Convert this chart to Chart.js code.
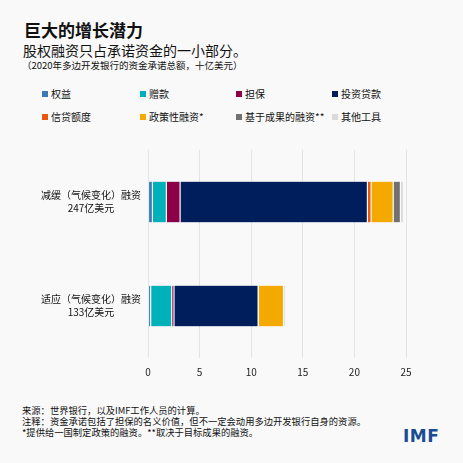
<!DOCTYPE html>
<html>
<head>
<meta charset="utf-8">
<script src="https://cdn.jsdelivr.net/npm/chart.js@4"></script>
<style>
  body { margin: 0; background: #f9f9f9; font-family: "Noto Sans CJK SC", sans-serif; color: #111; }
  #wrap { position: relative; width: 463px; height: 463px; overflow: hidden; }
  .t { position: absolute; white-space: nowrap; }
  #title { left: 24px; top: 17px; font-size: 17px; font-weight: bold; }
  #sub { left: 23px; top: 40px; font-size: 14px; }
  #unit { left: 22px; top: 58px; font-size: 9.5px; }
  #legend { position: absolute; left: 0; top: 0; }
  .li { position: absolute; font-size: 10px; line-height: 12px; white-space: nowrap; }
  .li span { display: inline-block; width: 6px; height: 6px; margin-right: 3px; vertical-align: 1px; }
  #chart { position: absolute; left: 0; top: 130px; }
  #notes { left: 22px; top: 405px; font-size: 9.3px; line-height: 11px; }
  #logo { left: 403px; top: 426px; font-family: "DejaVu Sans", sans-serif; font-weight: bold; font-size: 17px; color: #1a4b94; letter-spacing: 0.5px; }
</style>
</head>
<body>
<div id="wrap">
  <div class="t" id="title">巨大的增长潜力</div>
  <div class="t" id="sub">股权融资只占承诺资金的一小部分。</div>
  <div class="t" id="unit">（2020年多边开发银行的资金承诺总额，十亿美元）</div>
  <div id="legend"></div>
  <canvas id="chart" width="463" height="260"></canvas>
  <div class="t" id="notes">来源：世界银行，以及IMF工作人员的计算。<br>注释：资金承诺包括了担保的名义价值，但不一定会动用多边开发银行自身的资源。<br>*提供给一国制定政策的融资。**取决于目标成果的融资。</div>
  <div class="t" id="logo">IMF</div>
</div>
<script>
// categories (y axis), two lines each
const categories = [
    ['减缓（气候变化）融资', '247亿美元'],
    ['适应（气候变化）融资', '133亿美元']
];
const seriesNames = ['权益', '赠款', '担保', '投资贷款', '信贷额度', '政策性融资*', '基于成果的融资**', '其他工具'];
const seriesColors = ['#3a78b6', '#00b1b9', '#8c0048', '#001e5c', '#e8590f', '#f4a900', '#717171', '#dadada'];

// values, billions of USD: [mitigation, adaptation]
const equity = [0.43, 0.26];
const grants = [1.35, 2.04];
const guarantees = [1.33, 0.22];
const investmentLoans = [18.15, 8.15];
const creditLines = [0.36, 0.03];
const policyBased = [2.14, 2.43];
const resultsBased = [0.7, 0.02];
const otherTools = [0.3, 0.2];

const xTicks = [0, 5, 10, 15, 20, 25];

const seriesValues = [equity, grants, guarantees, investmentLoans, creditLines, policyBased, resultsBased, otherTools];

// legend, 4 columns x 2 rows
const legendCols = [42, 140, 236, 332];
const legendRows = [88, 111];
const legend = document.getElementById('legend');
seriesNames.forEach((name, i) => {
    const item = document.createElement('div');
    item.className = 'li';
    item.style.left = legendCols[i % 4] + 'px';
    item.style.top = legendRows[Math.floor(i / 4)] + 'px';
    item.innerHTML = '<span style="background:' + seriesColors[i] + '"></span>' + name;
    legend.appendChild(item);
});

const ctx = document.getElementById('chart').getContext('2d');
new Chart(ctx, {
    type: 'bar',
    data: {
        labels: categories,
        datasets: seriesNames.map((name, i) => ({
            label: name,
            data: seriesValues[i],
            backgroundColor: seriesColors[i],
            borderColor: 'rgba(255,255,255,0.45)',
            borderWidth: 0.6,
            borderSkipped: false,
            barPercentage: 0.4,
            categoryPercentage: 1
        }))
    },
    options: {
        indexAxis: 'y',
        responsive: false,
        animation: false,
        layout: { padding: { top: 12, right: 57, bottom: 0, left: 0 } },
        plugins: {
            legend: { display: false },
            tooltip: { enabled: false }
        },
        scales: {
            x: {
                stacked: true,
                min: 0,
                max: 25,
                afterBuildTicks: s => { s.ticks = xTicks.map(v => ({ value: v })); },
                afterFit: s => { s.height = 32; },
                grid: { color: '#e4e4e4', drawTicks: false },
                border: { display: false },
                ticks: {
                    padding: 8,
                    color: '#222',
                    font: { family: 'Noto Sans CJK SC', size: 10 }
                }
            },
            y: {
                stacked: true,
                afterFit: s => { s.width = 148; },
                grid: { display: false, drawTicks: false },
                border: { display: false },
                ticks: {
                    crossAlign: 'center',
                    padding: 7,
                    color: '#111',
                    font: { family: 'Noto Sans CJK SC', size: 10, lineHeight: 1.3 }
                }
            }
        }
    }
});
</script>
</body>
</html>
